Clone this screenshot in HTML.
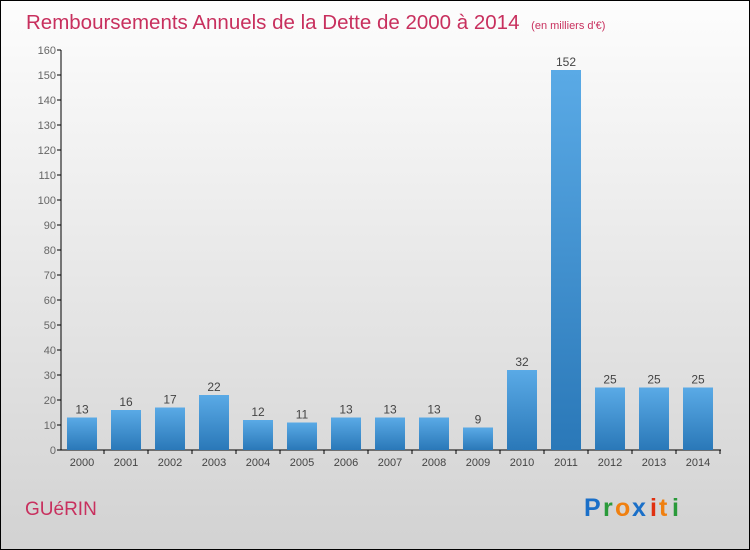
<!DOCTYPE html>
<html><head><meta charset="utf-8"><style>
body{margin:0}
#c{position:relative;width:748px;height:548px;border:1px solid #000;background:linear-gradient(#fdfdfd,#d2d2d2);font-family:"Liberation Sans",sans-serif;overflow:hidden}
</style></head><body>
<div id="c">
<svg width="748" height="548" id="s">
<defs><linearGradient id="g" x1="0" x2="0" y1="0" y2="1"><stop offset="0" stop-color="#5aaae6"/><stop offset="1" stop-color="#2a78b8"/></linearGradient></defs>
<text x="25" y="28" font-size="20.5" fill="#c8305e">Remboursements Annuels de la Dette de 2000 à 2014 <tspan font-size="11" dx="6">(en milliers d'€)</tspan></text>
<text x="24" y="514" font-size="19" fill="#c8305e">GUéRIN</text>
<g font-size="25" font-weight="bold"><text x="583" y="515" fill="#1a6fc8">P</text><text x="602" y="515" fill="#2a9a3a">r</text><text x="614" y="515" fill="#f08010">o</text><text x="631" y="515" fill="#1a6fc8">x</text><text x="649" y="515" fill="#e03010">i</text><text x="658" y="515" fill="#f08010">t</text><text x="671" y="515" fill="#2a9a3a">i</text></g>
<g id="ax"></g><g id="bars"></g>
</svg></div>
<script>
const categories=["2000","2001","2002","2003","2004","2005","2006","2007","2008","2009","2010","2011","2012","2013","2014"];
const values=[13,16,17,22,12,11,13,13,13,9,32,152,25,25,25];
const yTicks=[0,10,20,30,40,50,60,70,80,90,100,110,120,130,140,150,160];
const NS="http://www.w3.org/2000/svg";
const y=v=>449-v*2.5, x=i=>81+i*44;
function mk(t,a,p){const e=document.createElementNS(NS,t);for(const k in a)e.setAttribute(k,a[k]);p.appendChild(e);return e;}
const ax=document.getElementById('ax'),bars=document.getElementById('bars');
const yl=mk('line',{x1:60,x2:60,y1:y(160),y2:y(0),stroke:'#000'},ax);


const xl=mk('line',{x1:60,x2:720,y1:y(0),y2:y(0),stroke:'#000'},ax);


yTicks.forEach(v=>{
 mk('line',{x1:56,x2:60,y1:y(v),y2:y(v),stroke:'#000'},ax);
 const t=mk('text',{x:55,y:y(v)+4,'font-size':11,fill:'#666','text-anchor':'end'},ax);t.textContent=v;
 
 
});
categories.forEach((c,i)=>{
 const cx=x(i);
 const r=mk('rect',{x:cx-15,y:y(values[i]),width:30,height:y(0)-y(values[i]),fill:'url(#g)'},bars);
 
 
 const l=mk('text',{x:cx,y:y(values[i])-4,'font-size':12,fill:'#444','text-anchor':'middle'},bars);l.textContent=values[i];
 
 
 mk('line',{x1:cx+22,x2:cx+22,y1:y(0),y2:y(0)+4,stroke:'#000'},ax);
 const t=mk('text',{x:cx,y:y(0)+16,'font-size':11,fill:'#444','text-anchor':'middle'},ax);t.textContent=c;
 
 
});
</script>
</body></html>
